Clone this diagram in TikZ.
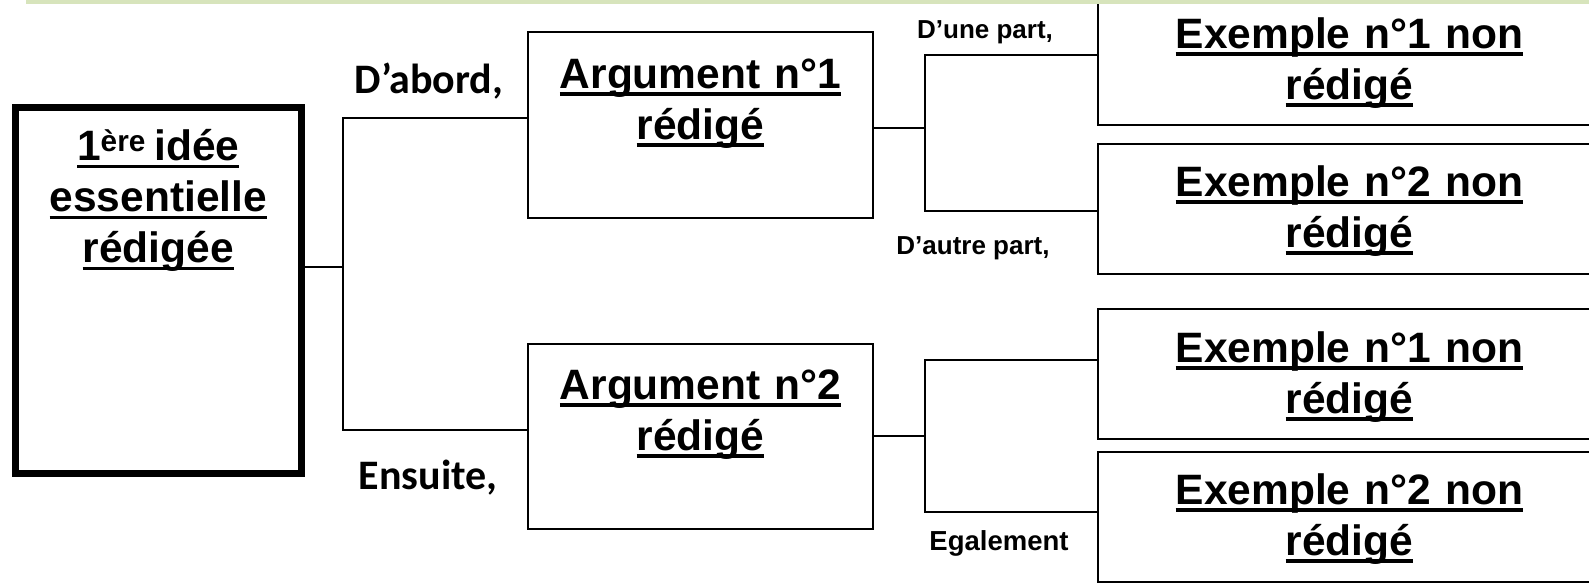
\documentclass[tikz,border=0pt]{standalone}
\usepackage{fontspec}
\setmainfont{Liberation Sans}
\newfontfamily\calib{Carlito}
\definecolor{bandgreen}{HTML}{D7E4BC}
\newsavebox\ulbox
\newcommand\ulin[1]{\leavevmode\sbox\ulbox{#1}\rlap{\rule[-0.18em]{\wd\ulbox}{0.085em}}\usebox\ulbox}

\begin{document}
\begin{tikzpicture}[x=1pt,y=-1pt]
  \tikzset{ b/.style={draw,line width=2pt,anchor=north west,inner sep=0pt,align=center,
      font=\fontsize{42.5}{51}\selectfont\bfseries},
    w/.style={line width=1.6pt},
    lbl/.style={anchor=base,inner sep=0pt,font=\fontsize{26}{30}\selectfont\bfseries},
    big/.style={anchor=base,inner sep=0pt,font=\calib\fontsize{42}{48}\selectfont\bfseries},
  }
  \useasboundingbox (0,0) rectangle (1589,582);
  \fill[bandgreen] (26,0) rectangle (1589,4);
  \begin{scope}
  \clip (0,4) rectangle (1589,582);

  % the boxes
  \node[b,line width=7pt,text width=286.5pt,text height=53pt,text depth=313pt] (idee) at (11.5,104)
    {\ulin{1\textsuperscript{ère}\hspace{0.2em}idée}\\\ulin{essentielle}\\\ulin{rédigée}};
  \node[b,text width=345pt,text height=56pt,text depth=130pt] (arg1) at (527,31)
    {\ulin{Argument n°1}\\\ulin{rédigé}};
  \node[b,text width=345pt,text height=55pt,text depth=130pt] (arg2) at (527,343)
    {\ulin{Argument n°2}\\\ulin{rédigé}};
  \node[b,text width=503pt,text height=53pt,text depth=77pt] (ex11) at (1097,-6)
    {\ulin{Exemple n°1 non}\\\ulin{rédigé}};
  \node[b,text width=503pt,text height=52pt,text depth=78pt] (ex12) at (1097,143)
    {\ulin{Exemple n°2 non}\\\ulin{rédigé}};
  \node[b,text width=503pt,text height=53pt,text depth=77pt] (ex21) at (1097,308)
    {\ulin{Exemple n°1 non}\\\ulin{rédigé}};
  \node[b,text width=503pt,text height=52pt,text depth=78pt] (ex22) at (1097,451)
    {\ulin{Exemple n°2 non}\\\ulin{rédigé}};

  % the connectors
  \coordinate (m) at (343,267);
  \coordinate (a1) at (343,118);
  \coordinate (a2) at (343,430);
  \draw[w] (idee.east |- m) -- (m);
  \draw[w] (arg1.west |- a1) -- (a1) -- (a2) -- (arg2.west |- a2);

  \coordinate (c) at (925,128);
  \coordinate (c1) at (925,55);
  \coordinate (c2) at (925,211);
  \draw[w] (arg1.east |- c) -- (c);
  \draw[w] (ex11.west |- c1) -- (c1) -- (c2) -- (ex12.west |- c2);

  \coordinate (d) at (925,436);
  \coordinate (d1) at (925,360);
  \coordinate (d2) at (925,512);
  \draw[w] (arg2.east |- d) -- (d);
  \draw[w] (ex21.west |- d1) -- (d1) -- (d2) -- (ex22.west |- d2);

  % the words on the branches
  \node[big] (dabord) at (429,93) {D’abord,};
  \node[big] (ensuite) at (428,489) {Ensuite,};
  \node[lbl] (dune) at (985,38) {D’une part,};
  \node[lbl] (dautre) at (973,254) {D’autre part,};
  \node[lbl,font=\fontsize{27.5}{30}\selectfont\bfseries] (egal) at (999,550) {Egalement};
  \end{scope}
\end{tikzpicture}
\end{document}
